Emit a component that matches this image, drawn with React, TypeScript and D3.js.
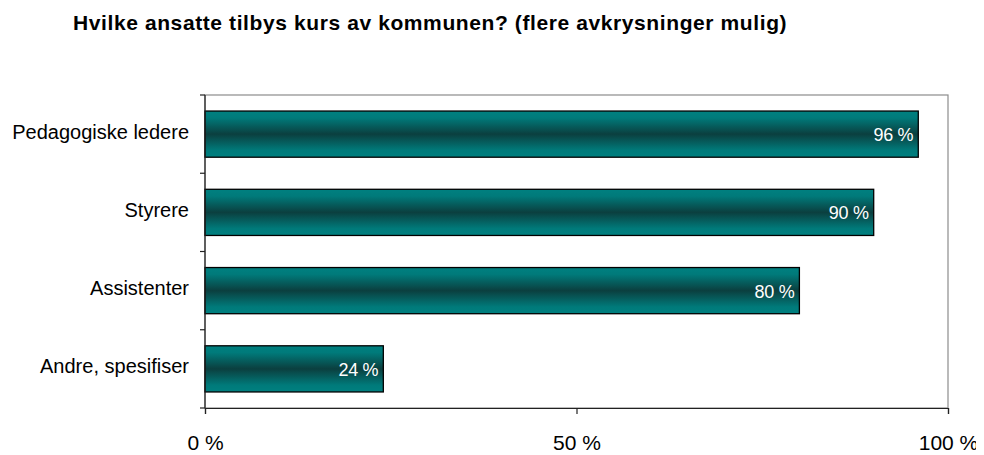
import { useEffect, useRef } from "react";
import * as d3 from "d3";

const categories = ["Pedagogiske ledere", "Styrere", "Assistenter", "Andre, spesifiser"];
const values = [96, 90, 80, 24];
const xTicks = [0, 50, 100];
const title = "Hvilke ansatte tilbys kurs av kommunen? (flere avkrysninger mulig)";

const width = 984;
const height = 455;
const margin = { top: 95, right: 36, bottom: 47, left: 205 };
const font = "Liberation Sans, Arial, sans-serif";

export default function App() {
  const ref = useRef<SVGSVGElement>(null);

  useEffect(() => {
    const svg = d3.select(ref.current)
      .attr("width", width)
      .attr("height", height);

    svg.selectAll("*").remove();

    const innerW = width - margin.left - margin.right;
    const innerH = height - margin.top - margin.bottom;

    const x = d3.scaleLinear().domain([0, 100]).range([0, innerW]);
    const y = d3.scaleBand().domain(categories).range([0, innerH]).paddingInner(0.41).paddingOuter(0.205);

    const defs = svg.append("defs");
    const grad = defs.append("linearGradient")
      .attr("id", "barGrad")
      .attr("x1", 0).attr("y1", 0).attr("x2", 0).attr("y2", 1);
    grad.append("stop").attr("offset", "0%").attr("stop-color", "#008080");
    grad.append("stop").attr("offset", "15%").attr("stop-color", "#007a7a");
    grad.append("stop").attr("offset", "50%").attr("stop-color", "#0b3f3f");
    grad.append("stop").attr("offset", "85%").attr("stop-color", "#007a7a");
    grad.append("stop").attr("offset", "100%").attr("stop-color", "#008080");

    svg.append("text")
      .attr("x", 73)
      .attr("y", 30)
      .attr("font-family", font)
      .attr("font-size", 21)
      .attr("font-weight", "bold")
      .attr("letter-spacing", 0.6)
      .attr("fill", "#000")
      .text(title);

    const g = svg.append("g").attr("transform", `translate(${margin.left},${margin.top})`);

    // plot area border (grey)
    g.append("rect")
      .attr("x", 0).attr("y", 0)
      .attr("width", innerW).attr("height", innerH)
      .attr("fill", "none")
      .attr("stroke", "#8c8c8c")
      .attr("stroke-width", 1.2);

    g.selectAll("rect.bar")
      .data(values)
      .join("rect")
      .attr("class", "bar")
      .attr("x", 0)
      .attr("y", (_, i) => y(categories[i])!)
      .attr("width", d => x(d))
      .attr("height", y.bandwidth())
      .attr("fill", "url(#barGrad)")
      .attr("stroke", "#000")
      .attr("stroke-width", 1.3);

    g.selectAll("text.val")
      .data(values)
      .join("text")
      .attr("class", "val")
      .attr("x", d => x(d) - 5)
      .attr("y", (_, i) => y(categories[i])! + y.bandwidth() / 2 + 7)
      .attr("text-anchor", "end")
      .attr("font-family", font)
      .attr("font-size", 18)
      .attr("letter-spacing", -0.3)
      .attr("fill", "#fff")
      .text(d => `${d} %`);

    // y axis
    const yAxis = g.append("g");
    yAxis.append("line")
      .attr("x1", 0).attr("x2", 0).attr("y1", 0).attr("y2", innerH)
      .attr("stroke", "#222").attr("stroke-width", 1.2);
    const step = innerH / categories.length;
    d3.range(categories.length + 1).forEach(i => {
      yAxis.append("line")
        .attr("x1", -5).attr("x2", 0)
        .attr("y1", i * step).attr("y2", i * step)
        .attr("stroke", "#222").attr("stroke-width", 1.2);
    });
    yAxis.selectAll("text")
      .data(categories)
      .join("text")
      .attr("x", -16)
      .attr("y", d => y(d)! + y.bandwidth() / 2 + 4.5)
      .attr("text-anchor", "end")
      .attr("font-family", font)
      .attr("font-size", 20)
      .attr("fill", "#000")
      .text(d => d);

    // x axis
    const xAxis = g.append("g")
      .attr("transform", `translate(0,${innerH})`)
      .call(d3.axisBottom(x).tickValues(xTicks).tickSize(6).tickPadding(22).tickFormat(d => `${d} %`));
    xAxis.select(".domain").attr("stroke", "#222").attr("stroke-width", 1.2);
    xAxis.selectAll(".tick line").attr("stroke", "#222").attr("stroke-width", 1.2);
    xAxis.selectAll(".tick text")
      .attr("font-family", font)
      .attr("font-size", 21)
      .attr("dy", 0)
      .attr("y", 42)
      .attr("fill", "#000");
  }, []);

  return (
    <div style={{ margin: -8 }}>
      <svg ref={ref}></svg>
    </div>
  );
}
